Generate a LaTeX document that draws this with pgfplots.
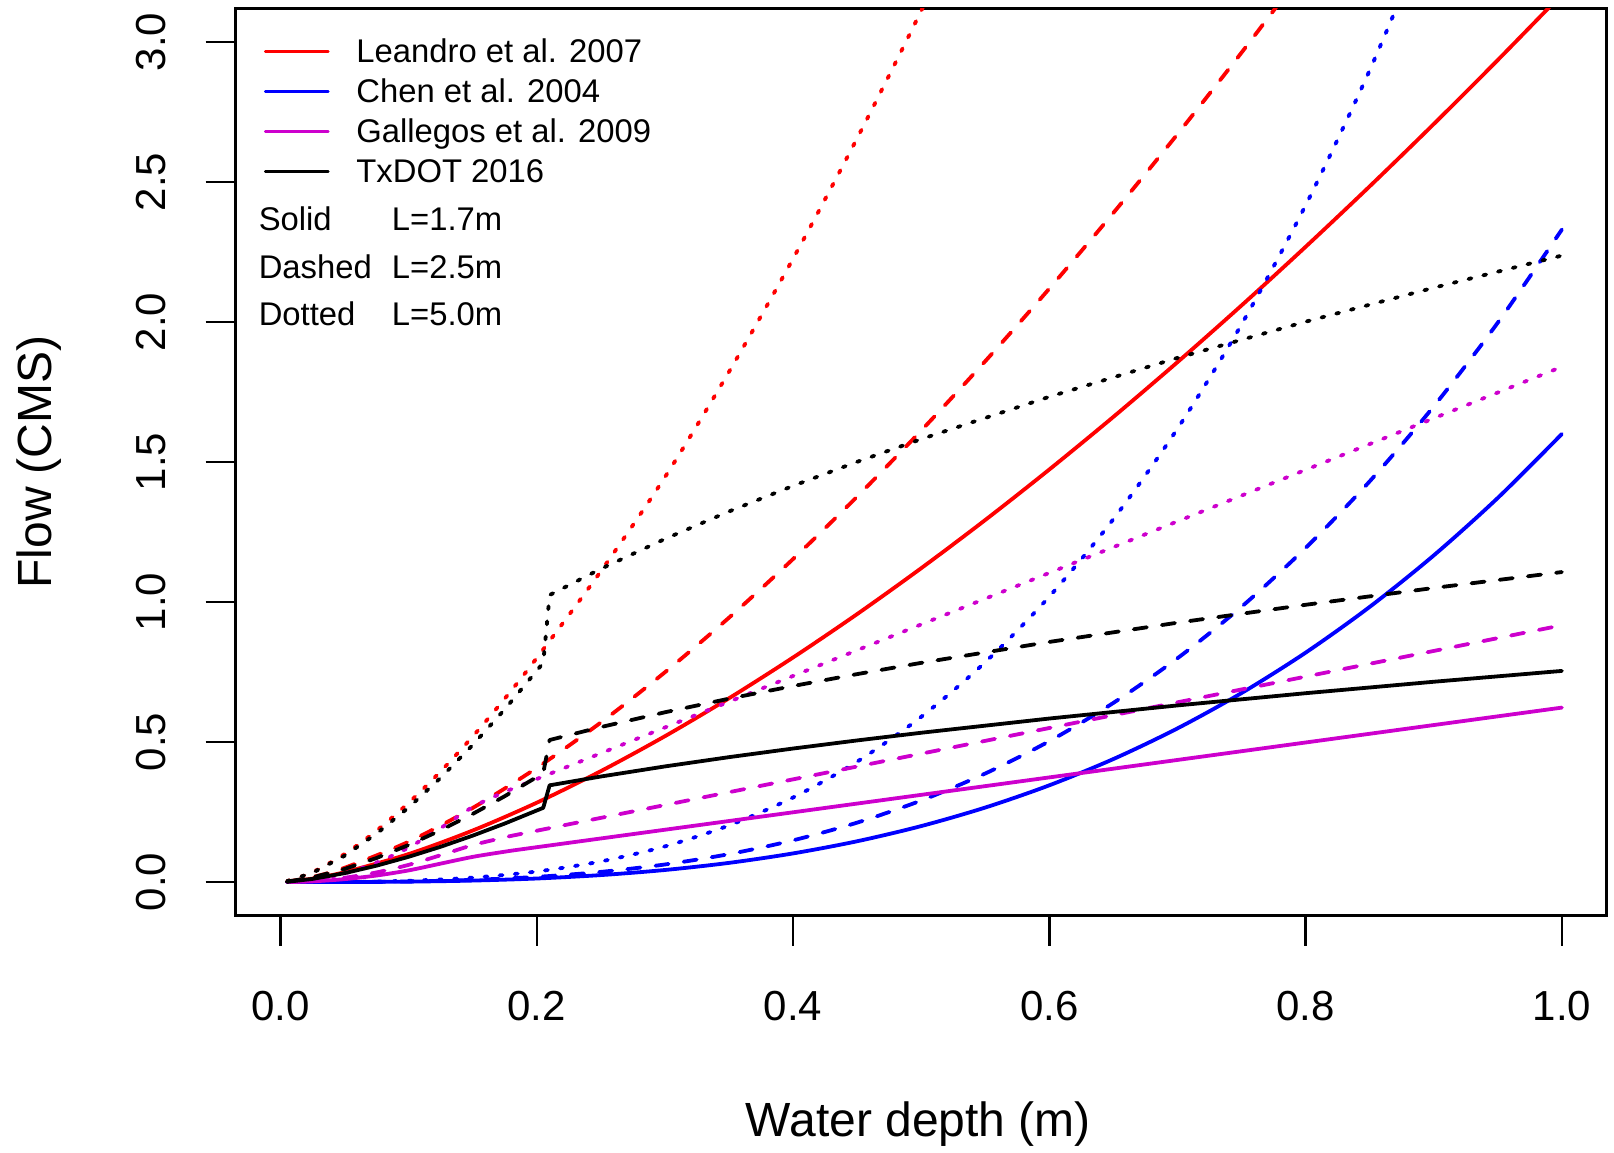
\documentclass[border=0pt]{standalone}
\usepackage{fontspec}
\setmainfont{Liberation Sans}
\usepackage{pgfplots}
\pgfplotsset{compat=1.18}
\definecolor{mag}{RGB}{205,0,205}
\begin{document}
\begin{tikzpicture}
\begin{axis}[
 scale only axis, width=342.75pt, height=226.85pt,
 xmin=-0.035, xmax=1.035, ymin=-0.12, ymax=3.12,
 axis line style={line width=0.65pt},
 tick align=outside, xtick pos=bottom, ytick pos=left,
 major tick length=7.5pt,
 every tick/.style={black, line width=0.65pt},
 xtick={0,0.2,0.4,0.6,0.8,1.0},
 xticklabels={0.0,0.2,0.4,0.6,0.8,1.0},
 ytick={0,0.5,1,1.5,2,2.5,3},
 yticklabels={0.0,0.5,1.0,1.5,2.0,2.5,3.0},
 xticklabel style={font=\fontsize{10.5}{12}\selectfont, anchor=north, inner sep=0pt},
 yticklabel style={font=\fontsize{10.5}{12}\selectfont, rotate=90, anchor=south, inner sep=0pt},
 xticklabel shift=11.25pt, yticklabel shift=9.75pt,
 xlabel={Water depth (m)}, ylabel={Flow (CMS)},
 label style={font=\fontsize{12}{14}\selectfont},
 xlabel style={at={(axis description cs:0.498,-0.2436)}, anchor=base, inner sep=0pt},
 ylabel style={at={(axis description cs:-0.1342,0.5)}, anchor=base, inner sep=0pt},
 legend style={at={(axis description cs:0.02064,0.9685)}, anchor=north west, draw=none, fill=none,
   inner sep=0pt, outer sep=0pt, font=\fontsize{8.2}{9.8}\selectfont, row sep=2.8pt, column sep=6.7pt,
   nodes={inner sep=0pt, text height=6.5pt, text depth=0.7pt}},
 legend cell align=left,
 legend image code/.code={\draw[#1] (0pt,0pt) -- (15.75pt,0pt);},
 every axis plot/.append style={line width=0.95pt, line cap=round, line join=round},
 dsh/.style={dash pattern=on 3.3pt off 3.8pt},
 dtt/.style={dash pattern=on 0.75pt off 3.05pt},
]
\addlegendimage{red, line width=0.65pt}\addlegendentry{Leandro et al. 2007}
\addlegendimage{blue, line width=0.65pt}\addlegendentry{Chen et al. 2004}
\addlegendimage{mag, line width=0.65pt}\addlegendentry{Gallegos et al. 2009}
\addlegendimage{black, line width=0.65pt}\addlegendentry{TxDOT 2016}

% Leandro et al. 2007
\addplot[red, smooth, forget plot] coordinates {(0.005,0.0011)(0.025,0.0125)(0.05,0.0354)(0.1,0.1002)(0.15,0.1842)(0.2,0.2835)(0.25,0.3963)(0.3,0.5209)(0.35,0.6564)(0.4,0.8020)(0.45,0.9569)(0.5,1.1208)(0.55,1.2930)(0.6,1.4733)(0.65,1.6612)(0.7,1.8565)(0.75,2.0590)(0.8,2.2683)(0.85,2.4842)(0.9,2.7066)(0.95,2.9353)(1.0,3.17)};
\addplot[red, dsh, smooth, forget plot] coordinates {(0.005,0.0016)(0.025,0.0180)(0.05,0.0510)(0.1,0.1442)(0.15,0.2649)(0.2,0.4079)(0.25,0.5700)(0.3,0.7493)(0.35,0.9442)(0.4,1.1536)(0.45,1.3765)(0.5,1.6122)(0.55,1.8600)(0.6,2.1193)(0.65,2.3897)(0.7,2.6706)(0.75,2.9618)(0.8,3.2629)};
\addplot[red, dtt, smooth, forget plot] coordinates {(0.005,0.0032)(0.025,0.0354)(0.05,0.1001)(0.075,0.1838)(0.1,0.2830)(0.125,0.3955)(0.15,0.5200)(0.175,0.6552)(0.2,0.8005)(0.25,1.1100)(0.3,1.4460)(0.35,1.8220)(0.4,2.2260)(0.45,2.6560)(0.5,3.1110)(0.55,3.5890)};

% Chen et al. 2004
\addplot[blue, smooth, forget plot] coordinates {(0.005,0)(0.05,0.0002)(0.1,0.0016)(0.15,0.0054)(0.2,0.0128)(0.25,0.0250)(0.3,0.0432)(0.35,0.0686)(0.4,0.1024)(0.45,0.1458)(0.5,0.2000)(0.55,0.2662)(0.6,0.3456)(0.65,0.4394)(0.7,0.5488)(0.75,0.6750)(0.8,0.8192)(0.85,0.9826)(0.9,1.1664)(0.95,1.3718)(1.0,1.6000)};
\addplot[blue, dsh, smooth, forget plot] coordinates {(0.005,0)(0.05,0.0003)(0.1,0.0023)(0.15,0.0079)(0.2,0.0186)(0.25,0.0364)(0.3,0.0629)(0.35,0.0999)(0.4,0.1491)(0.45,0.2123)(0.5,0.2913)(0.55,0.3877)(0.6,0.5033)(0.65,0.6399)(0.7,0.7992)(0.75,0.9830)(0.8,1.1930)(0.85,1.4309)(0.9,1.6986)(0.95,1.9977)(1.0,2.3300)};
\addplot[blue, dtt, smooth, forget plot] coordinates {(0.005,0)(0.05,0.0006)(0.1,0.0047)(0.15,0.0159)(0.2,0.0378)(0.25,0.0738)(0.3,0.1274)(0.35,0.2024)(0.4,0.3021)(0.45,0.4301)(0.5,0.5900)(0.55,0.7853)(0.6,1.0195)(0.65,1.2962)(0.7,1.6190)(0.75,1.9913)(0.8,2.4166)(0.85,2.8987)(0.9,3.4409)};

% Gallegos et al. 2009
\addplot[mag, smooth, forget plot] coordinates {(0.005,0.0001)(0.025,0.0026)(0.05,0.0105)(0.075,0.0235)(0.1,0.0418)(0.125,0.0660)(0.15,0.0900)(0.175,0.1085)(0.2,0.1246)(0.4,0.2492)(0.6,0.3738)(0.8,0.4984)(1.0,0.6230)};
\addplot[mag, dsh, smooth, forget plot] coordinates {(0.005,0.0002)(0.025,0.0038)(0.05,0.0154)(0.075,0.0346)(0.1,0.0615)(0.125,0.0961)(0.15,0.1320)(0.175,0.1595)(0.2,0.1834)(0.4,0.3668)(0.6,0.5502)(0.8,0.7336)(1.0,0.9170)};
\addplot[mag, dtt, smooth, forget plot] coordinates {(0.005,0.0003)(0.025,0.0077)(0.05,0.0309)(0.075,0.0695)(0.1,0.1235)(0.125,0.1930)(0.15,0.2680)(0.175,0.3220)(0.2,0.3680)(0.4,0.7360)(0.6,1.1040)(0.8,1.4720)(1.0,1.8400)};

% TxDOT 2016
\addplot[black, forget plot] coordinates {(0.005,0.0010)(0.025,0.0113)(0.05,0.0319)(0.075,0.0587)(0.1,0.0903)(0.125,0.1262)(0.15,0.1659)(0.175,0.2091)(0.205,0.2651)(0.21,0.3455)(0.25,0.3770)(0.3,0.4130)(0.35,0.4461)(0.4,0.4769)(0.45,0.5058)(0.5,0.5332)(0.6,0.5840)(0.7,0.6308)(0.8,0.6744)(0.9,0.7153)(1.0,0.7540)};
\addplot[black, dsh, forget plot] coordinates {(0.005,0.0015)(0.025,0.0166)(0.05,0.0468)(0.075,0.0861)(0.1,0.1325)(0.125,0.1852)(0.15,0.2434)(0.175,0.3067)(0.205,0.3889)(0.21,0.5073)(0.25,0.5535)(0.3,0.6063)(0.35,0.6549)(0.4,0.7001)(0.45,0.7426)(0.5,0.7828)(0.6,0.8575)(0.7,0.9262)(0.8,0.9901)(0.9,1.0502)(1.0,1.1070)};
\addplot[black, dtt, forget plot] coordinates {(0.005,0.0030)(0.025,0.0333)(0.05,0.0942)(0.075,0.1732)(0.1,0.2666)(0.125,0.3726)(0.15,0.4897)(0.175,0.6171)(0.205,0.7825)(0.21,1.0251)(0.25,1.1185)(0.3,1.2253)(0.35,1.3234)(0.4,1.4148)(0.45,1.5006)(0.5,1.5818)(0.6,1.7328)(0.7,1.8716)(0.8,2.0009)(0.9,2.1222)(1.0,2.2370)};

\node[anchor=base west, inner sep=0pt, font=\fontsize{8.2}{9.8}\selectfont] at (axis cs:-0.0176,2.3275) {Solid};
\node[anchor=base west, inner sep=0pt, font=\fontsize{8.2}{9.8}\selectfont] at (axis cs:0.0863,2.3275) {L=1.7m};
\node[anchor=base west, inner sep=0pt, font=\fontsize{8.2}{9.8}\selectfont] at (axis cs:-0.0176,2.155) {Dashed};
\node[anchor=base west, inner sep=0pt, font=\fontsize{8.2}{9.8}\selectfont] at (axis cs:0.0863,2.155) {L=2.5m};
\node[anchor=base west, inner sep=0pt, font=\fontsize{8.2}{9.8}\selectfont] at (axis cs:-0.0176,1.988) {Dotted};
\node[anchor=base west, inner sep=0pt, font=\fontsize{8.2}{9.8}\selectfont] at (axis cs:0.0863,1.988) {L=5.0m};
\end{axis}
\pgfresetboundingbox
\path[use as bounding box] ([xshift=-58.925pt,yshift=-59.325pt]current axis.south west) rectangle ([xshift=1.825pt,yshift=2.075pt]current axis.north east);
\end{tikzpicture}
\end{document}
